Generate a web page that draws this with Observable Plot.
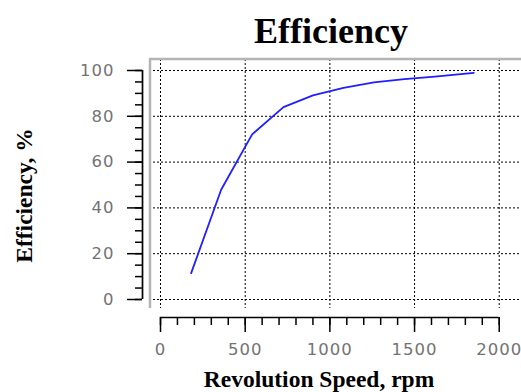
<!DOCTYPE html>
<html>
<head>
<meta charset="utf-8">
<script src="https://cdn.jsdelivr.net/npm/d3@7"></script>
<script src="https://cdn.jsdelivr.net/npm/@observablehq/plot@0.6"></script>
<style>
  html, body { margin: 0; padding: 0; background: #fff; }
  g[aria-label="x-axis tick label"] text, g[aria-label="y-axis tick label"] text { letter-spacing: 1px; }
</style>
</head>
<body>
<div id="chart"></div>
<script>
const speeds = [181, 358, 541, 726, 900, 1080, 1260, 1440, 1620, 1850];
const efficiency = [11.5, 47.9, 72.1, 84.0, 89.1, 92.4, 94.8, 96.2, 97.3, 99.0];
const xTicks = [0, 500, 1000, 1500, 2000];
const yTicks = [0, 20, 40, 60, 80, 100];
const xMinorTicks = d3.range(0, 2001, 100);
const yMinorTicks = d3.range(0, 101, 5);
const title = "Efficiency";
const xLabel = "Revolution Speed, rpm";
const yLabel = "Efficiency, %";

const data = speeds.map((s, i) => ({speed: s, eff: efficiency[i]}));
const xDomain = [-65, 2131.5];
const yDomain = [-3.93, 104.8];

const tickFont = {fontFamily: "DejaVu Sans", fontSize: 16.5, fill: "#737373", stroke: "none", tickFormat: d => String(d)};
const tickLine = {text: null, label: null, stroke: "black", strokeWidth: 1.5};
const serifBold = {fontFamily: "Liberation Serif", fontWeight: "bold", fill: "black"};

const chart = Plot.plot({
  width: 521,
  height: 392,
  marginLeft: 149,
  marginRight: 0,
  marginTop: 59,
  marginBottom: 84,
  style: {background: "#fff", overflow: "visible"},
  x: {domain: xDomain},
  y: {domain: yDomain},
  marks: [
    Plot.gridX(xTicks, {stroke: "black", strokeOpacity: 1, strokeWidth: 1, strokeDasharray: "2,2"}),
    Plot.gridY(yTicks, {stroke: "black", strokeOpacity: 1, strokeWidth: 1, strokeDasharray: "2,2"}),
    Plot.ruleX([xDomain[0]], {stroke: "#b4b4b4", strokeWidth: 2.5, dx: 0.5}),
    Plot.ruleY([yDomain[1]], {stroke: "#b4b4b4", strokeWidth: 2.5, dy: -0.5}),
    // y axis
    Plot.ruleX([xDomain[0]], {y1: 0, y2: 100, dx: -7, stroke: "black", strokeWidth: 1.7}),
    Plot.axisY(yMinorTicks, {anchor: "left", tickSize: 7, dx: -7, ...tickLine}),
    Plot.axisY(yTicks, {anchor: "left", tickSize: 15, dx: -7, ...tickLine}),
    Plot.axisY(yTicks, {anchor: "left", tickSize: 15, dx: -7, tickPadding: 13, label: null, ...tickFont}),
    // x axis
    Plot.ruleY([yDomain[0]], {x1: 0, x2: 2000, dy: 9, stroke: "black", strokeWidth: 1.7}),
    Plot.axisX(xMinorTicks, {anchor: "bottom", tickSize: 8, dy: 9, ...tickLine}),
    Plot.axisX(xTicks, {anchor: "bottom", tickSize: 15, dy: 9, ...tickLine}),
    Plot.axisX(xTicks, {anchor: "bottom", tickSize: 15, dy: 9, tickPadding: 11, label: null, ...tickFont}),
    // data
    Plot.line(data, {x: "speed", y: "eff", stroke: "#1f1fff", strokeWidth: 1.8}),
    // titles
    Plot.text([title], {frameAnchor: "top", lineAnchor: "bottom", dx: -4.5, dy: -16.5, fontSize: 36, ...serifBold}),
    Plot.text([xLabel], {frameAnchor: "bottom", lineAnchor: "bottom", dx: -16.5, dy: 78, fontSize: 23.5, ...serifBold}),
    Plot.text([yLabel], {frameAnchor: "left", textAnchor: "middle", lineAnchor: "bottom", rotate: -90, dx: -118, dy: 11.5, fontSize: 23.5, ...serifBold})
  ]
});
document.getElementById("chart").appendChild(chart);
</script>
</body>
</html>
